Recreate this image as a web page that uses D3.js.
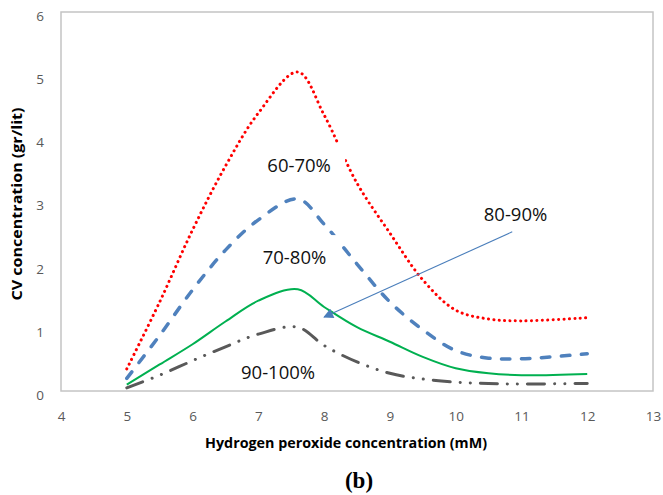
<!DOCTYPE html>
<html>
<head>
<meta charset="utf-8">
<script src="https://cdn.jsdelivr.net/npm/d3@7"></script>
<style>
  body { margin: 0; background: #fff; }
  text { font-family: "Open Sans", "DejaVu Sans", sans-serif; }
</style>
</head>
<body>
<div class="canvas"></div>
<script>
// concentrations (mM)
const peroxide = [5, 5.5, 6, 6.5, 7, 7.6, 8, 8.5, 9, 9.5, 10, 10.5, 11, 12];

// CV concentration (gr/lit) for each fraction
const cv6070  = [0.35, 1.41, 2.55, 3.56, 4.40, 5.05, 4.37, 3.29, 2.50, 1.76, 1.28, 1.14, 1.11, 1.16];
const cv7080  = [0.20, 0.88, 1.60, 2.23, 2.71, 3.04, 2.64, 2.01, 1.41, 0.97, 0.64, 0.52, 0.51, 0.59];
const cv8090  = [0.10, 0.42, 0.74, 1.10, 1.43, 1.61, 1.33, 1.01, 0.78, 0.54, 0.36, 0.28, 0.25, 0.27];
const cv90100 = [0.05, 0.25, 0.48, 0.70, 0.90, 1.01, 0.72, 0.46, 0.28, 0.19, 0.14, 0.12, 0.11, 0.12];

const xTicks = [4, 5, 6, 7, 8, 9, 10, 11, 12, 13];
const yTicks = [0, 1, 2, 3, 4, 5, 6];

const dim = { width: 663, height: 495 };
const plot = { left: 61, right: 653, top: 12, bottom: 391 };

const svg = d3.select('.canvas')
    .append('svg')
    .attr('width', dim.width)
    .attr('height', dim.height);

const x = d3.scaleLinear().domain([4, 13]).range([plot.left, plot.right]);
const y = d3.scaleLinear().domain([0, 6]).range([plot.bottom, plot.top]);

// plot frame
svg.append('rect')
    .attr('x', x(4))
    .attr('y', y(6))
    .attr('width', x(13) - x(4))
    .attr('height', y(0) - y(6))
    .attr('fill', 'none')
    .attr('stroke', '#c4c4c4')
    .attr('stroke-width', 1.5);

// axes (labels only, frame draws the lines)
const xAxis = svg.append('g')
    .attr('transform', `translate(0,${plot.bottom + 20})`)
    .call(d3.axisBottom(x).tickValues(xTicks).tickFormat(d3.format('d')).tickSize(0).tickPadding(0));
const yAxis = svg.append('g')
    .attr('transform', `translate(${plot.left - 17},0)`)
    .call(d3.axisLeft(y).tickValues(yTicks).tickFormat(d3.format('d')).tickSize(0).tickPadding(0));

[xAxis, yAxis].forEach(ax => {
    ax.select('.domain').remove();
    ax.selectAll('text')
        .attr('fill', '#595959')
        .style('font-family', '"Open Sans", sans-serif')
        .style('font-size', '13.5px');
});
yAxis.selectAll('text').attr('dy', '0.62em');

// series
const series = [
    { name: '60-70%', values: cv6070, colour: '#ff0000', width: 3, dash: '0.1 5.3', cap: 'round' },
    { name: '70-80%', values: cv7080, colour: '#4f81bd', width: 3.5, dash: '8.5 11.5', cap: 'round' },
    { name: '80-90%', values: cv8090, colour: '#00b050', width: 2, dash: null, cap: 'butt' },
    { name: '90-100%', values: cv90100, colour: '#595959', width: 3, dash: '17 10 0.1 10 0.1 10', cap: 'round' }
];

const line = d3.line()
    .x(d => x(d[0]))
    .y(d => y(d[1]))
    .curve(d3.curveCatmullRom.alpha(0.5));

svg.append('g').selectAll('path')
    .data(series)
    .enter()
    .append('path')
    .attr('d', s => line(peroxide.map((p, i) => [p, s.values[i]])))
    .attr('fill', 'none')
    .attr('stroke', s => s.colour)
    .attr('stroke-width', s => s.width)
    .attr('stroke-dasharray', s => s.dash)
    .attr('stroke-linecap', s => s.cap)
    .attr('stroke-linejoin', 'round');

// series labels (text boxes hide bits of the lines like in the original)
const labels = [
    { text: '60-70%', at: [7.62, 3.58], box: true },
    { text: '70-80%', at: [7.55, 2.12], box: true },
    { text: '80-90%', at: [10.91, 2.79], box: false },
    { text: '90-100%', at: [7.30, 0.30], box: false }
];

const labelGroup = svg.append('g');
labels.forEach(l => {
    if (l.box) {
        labelGroup.append('rect')
            .attr('x', x(l.at[0]) - 46)
            .attr('y', y(l.at[1]) - 22)
            .attr('width', 92)
            .attr('height', 44)
            .attr('fill', '#fff');
    }
    labelGroup.append('text')
        .attr('x', x(l.at[0]))
        .attr('y', y(l.at[1]))
        .attr('dy', '0.36em')
        .attr('text-anchor', 'middle')
        .attr('fill', '#111')
        .style('font-size', '18.5px')
        .text(l.text);
});

// arrow pointing at the 80-90% curve
const arrowFrom = [10.86, 2.52];
const arrowTo = [8.0, 1.17];

svg.append('defs').append('marker')
    .attr('id', 'head')
    .attr('viewBox', '0 0 10 10')
    .attr('refX', 9)
    .attr('refY', 5)
    .attr('markerUnits', 'userSpaceOnUse')
    .attr('markerWidth', 13)
    .attr('markerHeight', 10)
    .attr('orient', 'auto')
    .append('path')
    .attr('d', 'M0,0 L10,5 L0,10 Z')
    .attr('fill', '#4a7ebb');

svg.append('line')
    .attr('x1', x(arrowFrom[0]))
    .attr('y1', y(arrowFrom[1]))
    .attr('x2', x(arrowTo[0]))
    .attr('y2', y(arrowTo[1]))
    .attr('stroke', '#4a7ebb')
    .attr('stroke-width', 1.1)
    .attr('marker-end', 'url(#head)');

// axis titles
svg.append('text')
    .attr('x', 346)
    .attr('y', 448)
    .attr('text-anchor', 'middle')
    .attr('textLength', 282)
    .attr('lengthAdjust', 'spacingAndGlyphs')
    .style('font-size', '14.5px')
    .style('font-weight', 'bold')
    .attr('fill', '#000')
    .text('Hydrogen peroxide concentration (mM)');

svg.append('text')
    .attr('transform', 'translate(22,204) rotate(-90)')
    .attr('text-anchor', 'middle')
    .attr('textLength', 193)
    .attr('lengthAdjust', 'spacingAndGlyphs')
    .style('font-size', '14.5px')
    .style('font-weight', 'bold')
    .attr('fill', '#000')
    .text('CV concentration (gr/lit)');

svg.append('text')
    .attr('x', 359)
    .attr('y', 488)
    .attr('text-anchor', 'middle')
    .style('font-family', '"Liberation Serif", "DejaVu Serif", serif')
    .style('font-size', '23px')
    .style('font-weight', 'bold')
    .attr('fill', '#000')
    .text('(b)');
</script>
</body>
</html>
